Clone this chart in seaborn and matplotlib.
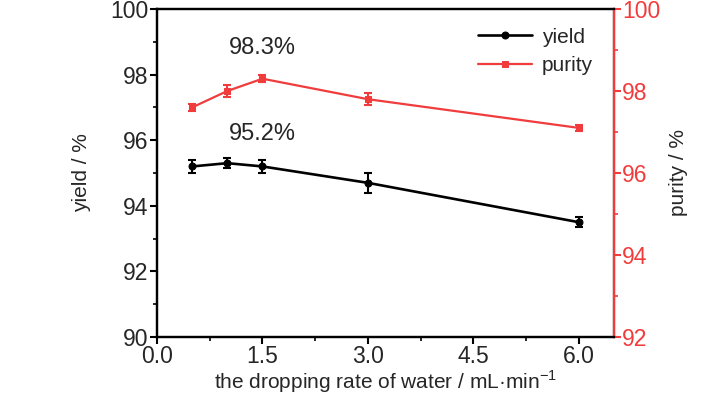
import matplotlib
matplotlib.use("Agg")
import matplotlib.pyplot as plt
from matplotlib import font_manager
from matplotlib.ticker import MultipleLocator
import numpy as np
import pandas as pd
import seaborn as sns

rate = [0.5, 1.0, 1.5, 3.0, 6.0]
yield_pct = [95.2, 95.3, 95.2, 94.7, 93.5]
yield_err = [0.2, 0.15, 0.2, 0.3, 0.15]
purity_pct = [97.6, 98.0, 98.3, 97.8, 97.1]
purity_err = [0.08, 0.15, 0.08, 0.15, 0.08]

RED = "#f03c3c"

sns.set_theme(style="white")
names = {f.name for f in font_manager.fontManager.ttflist}
family = "Liberation Sans Narrow" if "Liberation Sans Narrow" in names else "Liberation Sans"
plt.rcParams["font.family"] = [family, "DejaVu Sans"]
plt.rcParams["mathtext.fontset"] = "custom"
plt.rcParams["mathtext.rm"] = family

df = pd.DataFrame({"rate": rate, "yield": yield_pct, "purity": purity_pct})

fig = plt.figure(figsize=(7.28, 3.99), dpi=100)
ax = fig.add_axes([157 / 728, 62 / 399, 457 / 728, 328 / 399])
ax2 = ax.twinx()

sns.lineplot(data=df, x="rate", y="yield", ax=ax, color="black", marker="o",
             markersize=5, linewidth=1.9, markeredgecolor="black", label="yield", legend=False)
ax.errorbar(rate, yield_pct, yerr=yield_err, fmt="none", ecolor="black",
            elinewidth=1.5, capsize=3, capthick=1.5)

sns.lineplot(data=df, x="rate", y="purity", ax=ax2, color=RED, marker="s",
             markersize=5, linewidth=1.6, markeredgecolor=RED, label="purity", legend=False)
ax2.errorbar(rate, purity_pct, yerr=purity_err, fmt="none", ecolor=RED,
             elinewidth=1.5, capsize=3, capthick=1.5)

ax.set_xlim(0, 6.5)
ax.set_ylim(90, 100)
ax2.set_ylim(92, 100)
ax.set_xticks([0, 1.5, 3.0, 4.5, 6.0])
ax.set_xticklabels(["0.0", "1.5", "3.0", "4.5", "6.0"])
ax.xaxis.set_minor_locator(MultipleLocator(0.75))
ax.set_yticks([90, 92, 94, 96, 98, 100])
ax.yaxis.set_minor_locator(MultipleLocator(1))
ax2.set_yticks([92, 94, 96, 98, 100])
ax2.yaxis.set_minor_locator(MultipleLocator(1))

for a in (ax, ax2):
    for s in a.spines.values():
        s.set_linewidth(1.6)
        s.set_color("black")
ax2.spines["right"].set_color(RED)

ax.tick_params(axis="both", which="major", direction="out", length=5, width=1.5,
               labelsize=16.5, color="black", pad=1, left=True, bottom=True)
ax.tick_params(axis="both", which="minor", direction="out", length=3, width=1.2,
               color="black", left=True, bottom=True)
ax2.tick_params(axis="y", which="major", direction="out", length=5, width=1.5,
                labelsize=16.5, colors=RED, pad=1, right=True)
ax2.tick_params(axis="y", which="minor", direction="out", length=3, width=1.2,
                color=RED, right=True)

ax.set_xlabel("the dropping rate of water / mL·min$^{\\mathregular{-1}}$", fontsize=15, labelpad=0)
ax.set_ylabel("yield / %", fontsize=15, labelpad=14)
ax2.set_ylabel("purity / %", fontsize=15, labelpad=6)

ax.text(1.5, 98.8, "98.3%", fontsize=17, ha="center", va="center")
ax.text(1.5, 96.2, "95.2%", fontsize=17, ha="center", va="center")

h1, l1 = ax.get_legend_handles_labels()
h2, l2 = ax2.get_legend_handles_labels()
ax2.legend(h1 + h2, l1 + l2, loc="upper right", frameon=False, fontsize=15,
           handlelength=2.6, handletextpad=0.45, labelspacing=0.45,
           bbox_to_anchor=(0.995, 1.0))

fig.savefig("out.png", dpi=100)
